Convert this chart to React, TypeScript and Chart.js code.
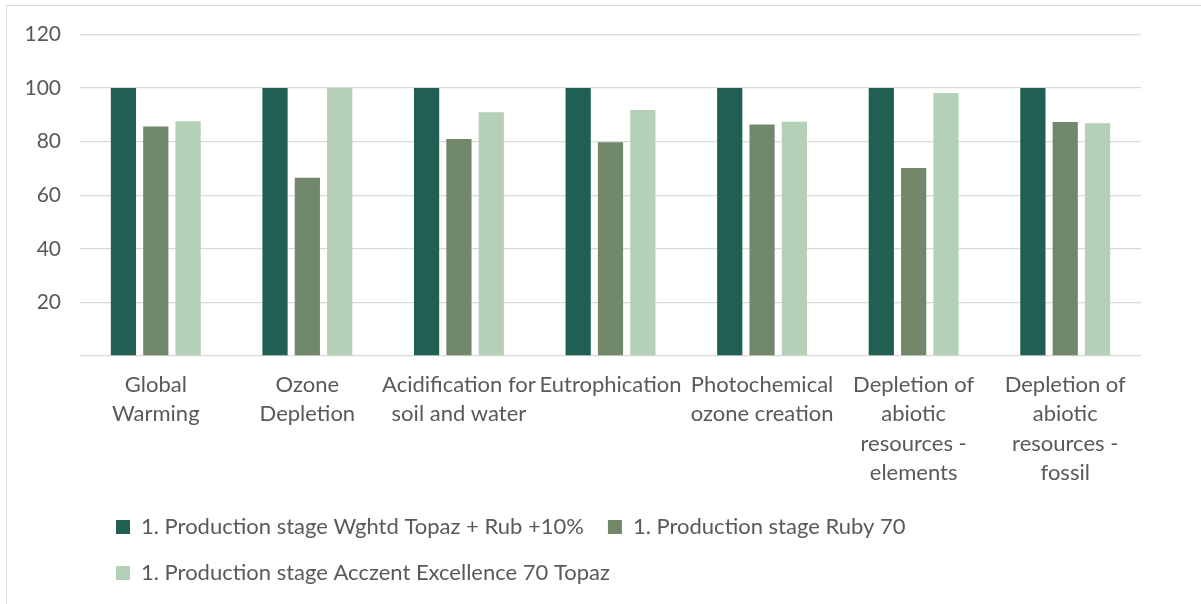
import React, { useEffect, useRef } from "react";
import { Chart, registerables } from "chart.js";

Chart.register(...registerables);

const categories: string[][] = [
  ["Global", "Warming"],
  ["Ozone", "Depletion"],
  ["Acidification for", "soil and water"],
  ["Eutrophication"],
  ["Photochemical", "ozone creation"],
  ["Depletion of", "abiotic", "resources -", "elements"],
  ["Depletion of", "abiotic", "resources -", "fossil"],
];

const seriesNames = [
  "1. Production stage Wghtd Topaz + Rub +10%",
  "1. Production stage Ruby 70",
  "1. Production stage Acczent Excellence 70 Topaz",
];

const wghtdTopazRub = [100, 100, 100, 100, 100, 100, 100];
const ruby70 = [85.6, 66.5, 80.9, 79.7, 86.4, 70.1, 87.3];
const acczentExcellence = [87.6, 100, 90.9, 91.8, 87.4, 98.1, 86.8];

const yTicks = [20, 40, 60, 80, 100, 120];

const colors = ["#215F53", "#71896A", "#B4D0B6"];
const textColor = "#595959";
const fontFamily = "Lato, 'Open Sans', sans-serif";

const legendShift = {
  id: "legendShift",
  afterLayout(chart: any) {
    const l = chart.legend;
    if (!l) return;
    const h = l.height;
    l.left = 85;
    l.top = 486;
    l.bottom = l.top + h;
  },
};

export default function App() {
  const ref = useRef<HTMLCanvasElement | null>(null);
  useEffect(() => {
    if (!ref.current) return;
    const chart = new Chart(ref.current, {
      type: "bar",
      data: {
        labels: categories,
        datasets: [
          { label: seriesNames[0], data: wghtdTopazRub, backgroundColor: colors[0] },
          { label: seriesNames[1], data: ruby70, backgroundColor: colors[1] },
          { label: seriesNames[2], data: acczentExcellence, backgroundColor: colors[2] },
        ],
      },
      options: {
        animation: false,
        responsive: true,
        maintainAspectRatio: false,
        layout: { padding: { top: 28.3, right: 60, left: 0, bottom: 0 } },
        datasets: { bar: { categoryPercentage: 0.64, barPercentage: 0.78 } },
        plugins: {
          tooltip: { enabled: false },
          legend: {
            position: "bottom",
            align: "start",
            labels: {
              boxWidth: 14,
              boxHeight: 14,
              padding: 24,
              color: textColor,
              font: { family: fontFamily, size: 22 },
            },
          },
        },
        scales: {
          x: {
            grid: { display: false, drawTicks: false },
            border: { display: false },
            ticks: {
              color: textColor,
              padding: 14,
              maxRotation: 0,
              autoSkip: false,
              font: { family: fontFamily, size: 22, lineHeight: 1.34 },
            },
            afterFit: (scale: any) => {
              scale.height = 146;
            },
          },
          y: {
            min: 0,
            max: 120,
            afterBuildTicks: (scale: any) => {
              scale.ticks = [0, ...yTicks].map((v) => ({ value: v }));
            },
            grid: { color: "#d9d9d9", lineWidth: 1.3, drawTicks: false },
            border: { display: false },
            ticks: {
              color: textColor,
              padding: 19,
              font: { family: fontFamily, size: 21 },
              callback: (v: any) => (v === 0 ? "" : String(v)),
            },
            afterFit: (scale: any) => {
              scale.width = 73;
              scale.paddingTop = 0;
              scale.paddingBottom = 0;
            },
          },
        },
      },
      plugins: [legendShift],
    });
    return () => chart.destroy();
  }, []);

  return (
    <div
      style={{
        position: "absolute",
        left: 6,
        top: 5,
        width: 1194,
        height: 598,
        borderLeft: "1px solid #d9d9d9",
        borderTop: "1px solid #d9d9d9",
        background: "#fff",
      }}
    >
      <canvas ref={ref} />
    </div>
  );
}
